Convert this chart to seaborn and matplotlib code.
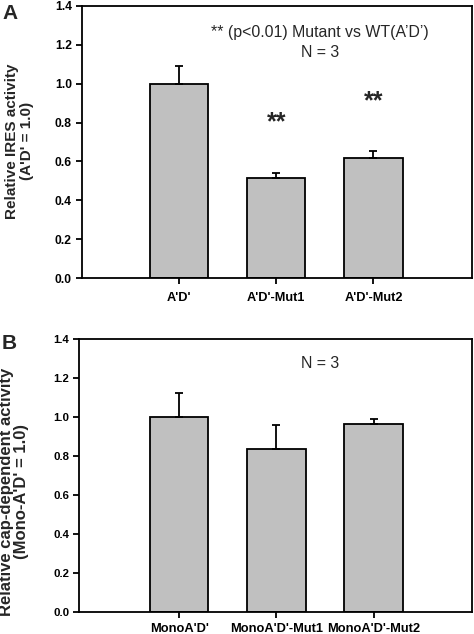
import matplotlib
matplotlib.use("Agg")
import matplotlib.pyplot as plt
import seaborn as sns
import pandas as pd

sns.set_theme(style="ticks")
plt.rcParams['font.family'] = ['Liberation Sans', 'DejaVu Sans']

cats_a = ["A'D'", "A'D'-Mut1", "A'D'-Mut2"]
vals_a = [1.0, 0.514, 0.618]
err_a = [0.088, 0.027, 0.037]

cats_b = ["MonoA'D'", "MonoA'D'-Mut1", "MonoA'D'-Mut2"]
vals_b = [1.0, 0.835, 0.963]
err_b = [0.125, 0.123, 0.029]

yticks = [0.0, 0.2, 0.4, 0.6, 0.8, 1.0, 1.2, 1.4]

fig = plt.figure(figsize=(4.74, 6.34), dpi=100)
axA = fig.add_axes([0.1724, 0.561, 0.8228, 0.430])
axB = fig.add_axes([0.1667, 0.0352, 0.8285, 0.4297])


def draw(ax, cats, vals, errs, xlim, ylabel, ytick_fs, xtick_fs, ylab_xy,
         ylab_fs, xpad):
    df = pd.DataFrame({"cat": cats, "val": vals})
    sns.barplot(data=df, x="cat", y="val", ax=ax, color="#c0c0c0",
                saturation=1, width=0.6, edgecolor="black", linewidth=1.3,
                errorbar=None)
    ax.errorbar(range(len(cats)), vals, yerr=[[0] * len(errs), errs],
                fmt="none", ecolor="black", elinewidth=1.3, capsize=3,
                capthick=1.3)
    ax.set_xlim(*xlim)
    ax.set_ylim(0, 1.4)
    ax.set_yticks(yticks)
    ax.set_yticklabels([f"{t:.1f}" for t in yticks], fontweight="bold",
                       fontsize=ytick_fs)
    ax.set_xticks(range(len(cats)))
    ax.set_xticklabels(cats, fontweight="bold", fontsize=xtick_fs)
    ax.set_xlabel("")
    ax.set_ylabel(ylabel, fontweight="bold", fontsize=ylab_fs,
                  linespacing=1.05, va="center", ha="center")
    ax.yaxis.set_label_coords(*ylab_xy)
    for s in ax.spines.values():
        s.set_visible(True)
        s.set_linewidth(1.3)
        s.set_color("black")
    ax.tick_params(axis="both", direction="out", length=4, width=1.3,
                   colors="black")
    ax.tick_params(axis="x", pad=xpad)
    ax.tick_params(axis="y", pad=3)
    ax.set_facecolor("white")


draw(axA, cats_a, vals_a, err_a, (-1.0, 3.01),
     "Relative IRES activity\n(A'D' = 1.0)", 8.7, 9.2, (-0.159, 0.504),
     11, 6)
draw(axB, cats_b, vals_b, err_b, (-1.03, 3.01),
     "Relative cap-dependent activity\n(Mono-A'D' = 1.0)", 8.2, 9.3,
     (-0.166, 0.44), 12, 4.5)

axA.text(1.45, 1.26, "** (p<0.01) Mutant vs WT(A\u2019D\u2019)", ha="center",
         va="center", fontsize=11.4)
axA.text(1.45, 1.16, "N = 3", ha="center", va="center", fontsize=11.4)
axA.text(1, 0.80, "**", ha="center", va="center", fontsize=18,
         fontweight="bold")
axA.text(2, 0.91, "**", ha="center", va="center", fontsize=18,
         fontweight="bold")
axB.text(1.45, 1.277, "N = 3", ha="center", va="center", fontsize=11.4)

fig.text(0.021, 0.979, "A", fontsize=15, fontweight="bold", ha="center",
         va="center")
fig.text(0.019, 0.458, "B", fontsize=15, fontweight="bold", ha="center",
         va="center")

fig.savefig("out.png", dpi=100, facecolor="white")
